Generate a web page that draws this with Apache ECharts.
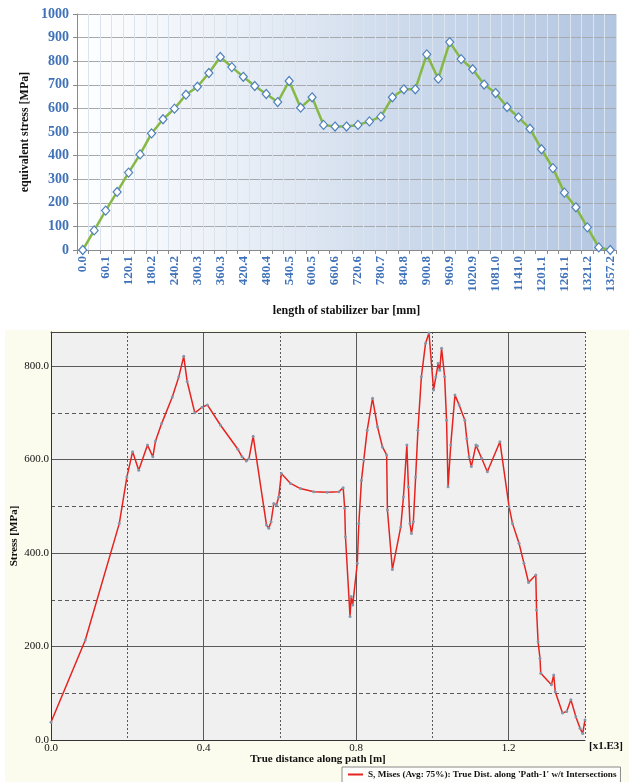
<!DOCTYPE html>
<html>
<head>
<meta charset="utf-8">
<script src="https://cdn.jsdelivr.net/npm/echarts/dist/echarts.min.js"></script>
<style>html,body{margin:0;padding:0;background:#fff}#c{width:629px;height:782px}</style>
</head>
<body>
<div id="c"></div>
<script>
// ---- top chart data ----
const topCategories = ['0.0','30.0','60.1','90.1','120.1','150.2','180.2','210.2','240.2','270.3','300.3','330.3','360.3','390.4','420.4','450.4','480.4','510.5','540.5','570.5','600.5','630.6','660.6','690.6','720.6','750.7','780.7','810.7','840.8','870.8','900.8','930.8','960.9','990.9','1020.9','1050.9','1081.0','1111.0','1141.0','1171.0','1201.1','1231.1','1261.1','1291.1','1321.2','1339.2','1357.2'];
const topStress = [0,83,167,246,328,405,494,554,599,658,692,750,818,775,734,695,661,627,716,603,647,530,523,523,530,545,565,647,681,681,829,726,881,809,766,701,665,606,562,514,427,347,243,181,96,11,0];
const topYTicks = [0,100,200,300,400,500,600,700,800,900,1000];

// ---- bottom chart data ----
const pathDist = [0.000,0.090,0.179,0.199,0.214,0.230,0.253,0.267,0.274,0.290,0.318,0.335,0.348,0.357,0.377,0.396,0.410,0.444,0.490,0.501,0.512,0.519,0.530,0.565,0.571,0.577,0.584,0.591,0.597,0.604,0.628,0.654,0.689,0.724,0.755,0.766,0.770,0.772,0.784,0.787,0.791,0.803,0.807,0.814,0.820,0.829,0.843,0.856,0.869,0.880,0.882,0.895,0.917,0.924,0.933,0.937,0.941,0.945,0.950,0.956,0.962,0.971,0.982,0.991,1.003,1.009,1.015,1.019,1.024,1.032,1.037,1.041,1.048,1.059,1.070,1.085,1.090,1.096,1.102,1.114,1.118,1.129,1.144,1.177,1.201,1.210,1.227,1.240,1.252,1.271,1.273,1.277,1.282,1.284,1.312,1.318,1.322,1.341,1.352,1.363,1.376,1.387,1.394,1.400];
const misesStress = [38,214,463,563,617,577,631,606,640,677,734,777,821,767,700,712,717,674,622,606,597,602,650,460,453,467,506,503,520,570,549,538,531,530,531,540,496,435,264,307,289,378,463,556,599,663,731,670,627,610,492,365,456,520,631,542,463,442,467,563,663,777,849,871,749,777,806,791,838,777,684,542,631,738,717,684,645,606,585,631,629,603,574,638,499,463,421,378,337,353,278,210,175,143,118,139,103,58,61,86,50,25,14,43];
const bottomXLabels = ['0.0','0.4','0.8','1.2'];
const legendName = "S, Mises (Avg: 75%): True Dist. along 'Path-1' w/t Intersections";

const serif = 'Liberation Serif, Times New Roman, serif';
const blue = '#3f72b8';
const gridDark = '#5a5a5a';

const chart = echarts.init(document.getElementById('c'));
const bottomData = pathDist.map((x, i) => [x, misesStress[i]]);

chart.setOption({
  animation: false,
  backgroundColor: '#ffffff',
  graphic: [
    { type: 'rect', z: -10, shape: { x: 5, y: 330, width: 624, height: 452 }, style: { fill: '#fbfbee' } },
    { type: 'text', left: 589, top: 741, style: { text: '[x1.E3]', font: 'bold 11px ' + serif, fill: '#111' } }
  ],
  legend: {
    data: [{ name: legendName, icon: 'rect', itemStyle: { color: '#e52420' } }],
    left: 342, top: 767,
    itemWidth: 15, itemHeight: 2,
    backgroundColor: '#fdfdfb', borderColor: '#8a8a8a', borderWidth: 1,
    padding: [3, 4, 4, 6],
    textStyle: { fontFamily: serif, fontSize: 9.2, fontWeight: 'bold', color: '#111' }
  },
  grid: [
    {
      left: 77, right: 13, top: 14, bottom: 532, show: true, borderWidth: 0,
      outerBoundsMode: 'none', containLabel: false,
      backgroundColor: new echarts.graphic.LinearGradient(0, 0, 1, 0, [
        { offset: 0, color: '#ffffff' },
        { offset: 0.3, color: '#e9eff7' },
        { offset: 0.65, color: '#c9d7ea' },
        { offset: 1, color: '#b3c6e1' }
      ])
    },
    { left: 51, right: 44, top: 332, bottom: 42, show: true, borderWidth: 0, backgroundColor: '#f0f0f0',
      outerBoundsMode: 'none', containLabel: false }
  ],
  xAxis: [
    {
      gridIndex: 0, type: 'category', data: topCategories, boundaryGap: true,
      axisLine: { lineStyle: { color: '#8a8a8a' } },
      axisTick: { show: true, interval: 0, length: 4, lineStyle: { color: '#8a8a8a' } },
      axisLabel: { interval: 1, rotate: 90, color: blue, fontFamily: serif, fontWeight: 'bold', fontSize: 13, margin: 6 },
      splitLine: { show: true, interval: 0, lineStyle: { color: '#dbe3ee', width: 1 } },
      name: 'length of stabilizer bar [mm]', nameLocation: 'middle', nameGap: 55, nameMoveOverlap: false,
      nameTextStyle: { fontFamily: serif, fontWeight: 'bold', fontSize: 12, color: '#111' }
    },
    {
      gridIndex: 1, type: 'value', min: 0, max: 1.4, interval: 0.2, position: 'bottom',
      axisLine: { show: false }, axisTick: { show: false }, axisLabel: { show: false },
      splitLine: { show: true, lineStyle: { color: ['transparent', gridDark], type: [2, 2], width: 1 } }
    },
    {
      gridIndex: 1, type: 'value', min: 0, max: 1.4, interval: 0.4, position: 'bottom',
      axisLine: { show: true, lineStyle: { color: '#333', width: 1 } },
      axisTick: { show: false },
      axisLabel: {
        color: '#111', fontFamily: serif, fontSize: 11, margin: 3,
        formatter: v => { const s = v.toFixed(1); return bottomXLabels.indexOf(s) >= 0 ? s : ''; }
      },
      splitLine: { show: true, lineStyle: { color: [gridDark, gridDark, gridDark, gridDark, 'transparent'], width: 1 } },
      name: 'True distance along path [m]', nameLocation: 'middle', nameGap: 14, nameMoveOverlap: false,
      nameTextStyle: { fontFamily: serif, fontWeight: 'bold', fontSize: 11, color: '#111' }
    },
    {
      gridIndex: 1, type: 'value', min: 0, max: 1.4, position: 'top',
      axisLine: { show: true, lineStyle: { color: '#444', width: 1 } },
      axisTick: { show: false }, axisLabel: { show: false }, splitLine: { show: false }
    }
  ],
  yAxis: [
    {
      gridIndex: 0, type: 'value', min: 0, max: 1000, interval: 100, position: 'left',
      axisLine: { show: true, lineStyle: { color: '#8a8a8a' } },
      axisTick: { show: true, length: 4, lineStyle: { color: '#8a8a8a' } },
      axisLabel: { color: blue, fontFamily: serif, fontWeight: 'bold', fontSize: 14, margin: 8,
        formatter: v => topYTicks.indexOf(v) >= 0 ? String(v) : '' },
      splitLine: { show: true, lineStyle: { color: '#a6a9ae', width: 1 } },
      name: 'equivalent stress [MPa]', nameLocation: 'middle', nameGap: 46, nameMoveOverlap: false,
      nameTextStyle: { fontFamily: serif, fontWeight: 'bold', fontSize: 12, color: '#111' }
    },
    {
      gridIndex: 1, type: 'value', min: 0, max: 873, interval: 100, position: 'left',
      axisLine: { show: false }, axisTick: { show: false }, axisLabel: { show: false },
      splitLine: { show: true, lineStyle: { color: ['transparent', gridDark], type: [4, 3], width: 1 } }
    },
    {
      gridIndex: 1, type: 'value', min: 0, max: 873, interval: 200, position: 'left',
      axisLine: { show: true, lineStyle: { color: '#333', width: 1 } },
      axisTick: { show: false },
      axisLabel: { color: '#111', fontFamily: serif, fontSize: 11, margin: 2,
        formatter: v => (v % 200 === 0) ? v.toFixed(1) : '' },
      splitLine: { show: true, lineStyle: { color: gridDark, width: 1 } },
      name: 'Stress [MPa]', nameLocation: 'middle', nameGap: 31, nameMoveOverlap: false,
      nameTextStyle: { fontFamily: serif, fontWeight: 'bold', fontSize: 11, color: '#111' }
    }
  ],
  series: [
    {
      type: 'line', xAxisIndex: 0, yAxisIndex: 0, data: topStress,
      lineStyle: { color: '#86b845', width: 2.5 },
      symbol: 'diamond', symbolSize: [8, 9], showAllSymbol: true,
      itemStyle: { color: '#ffffff', borderColor: '#4f81bd', borderWidth: 1.2 },
      z: 3
    },
    {
      name: legendName,
      type: 'line', xAxisIndex: 2, yAxisIndex: 2, data: bottomData,
      lineStyle: { color: '#e52420', width: 1.5 },
      symbol: 'circle', symbolSize: 3, showAllSymbol: true,
      itemStyle: { color: '#8797aa', borderWidth: 0 },
      z: 3
    }
  ]
});
</script>
</body>
</html>
